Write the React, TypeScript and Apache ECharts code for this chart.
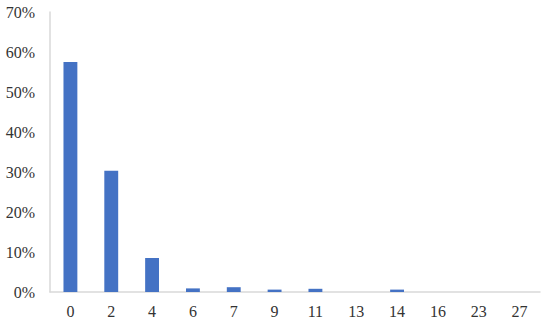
import React, { useEffect, useRef } from "react";
import * as echarts from "echarts";

const categories = ["0", "2", "4", "6", "7", "9", "11", "13", "14", "16", "23", "27"];
const values = [0.575, 0.303, 0.085, 0.009, 0.012, 0.006, 0.008, 0, 0.006, 0, 0, 0];
const yTicks = [0, 0.1, 0.2, 0.3, 0.4, 0.5, 0.6, 0.7];

export default function App() {
  const ref = useRef<HTMLDivElement>(null);
  useEffect(() => {
    const chart = echarts.init(ref.current!, undefined, { renderer: "svg" });
    chart.setOption({
      animation: false,
      grid: { left: 50, right: 10, top: 12, bottom: 31, containLabel: false },
      xAxis: {
        type: "category",
        data: categories,
        axisLine: { lineStyle: { color: "#d9d9d9", width: 1.5 } },
        axisTick: { show: false },
        axisLabel: {
          color: "#333333",
          fontFamily: "Liberation Serif",
          fontSize: 16,
          margin: 11,
          interval: 0,
        },
      },
      yAxis: {
        type: "value",
        min: 0,
        max: yTicks[yTicks.length - 1],
        interval: 0.1,
        splitLine: { show: false },
        axisLine: { show: true, lineStyle: { color: "#d9d9d9", width: 1.5 } },
        axisTick: { show: false },
        axisLabel: {
          color: "#333333",
          fontFamily: "Liberation Serif",
          fontSize: 16,
          margin: 15,
          formatter: (v: number) => Math.round(v * 100) + "%",
        },
      },
      series: [
        {
          type: "bar",
          data: values,
          barWidth: "34%",
          itemStyle: { color: "#4472C4" },
        },
      ],
    });
    return () => chart.dispose();
  }, []);
  return <div ref={ref} style={{ width: 550, height: 323, position: "absolute", left: 0, top: 0 }} />;
}
